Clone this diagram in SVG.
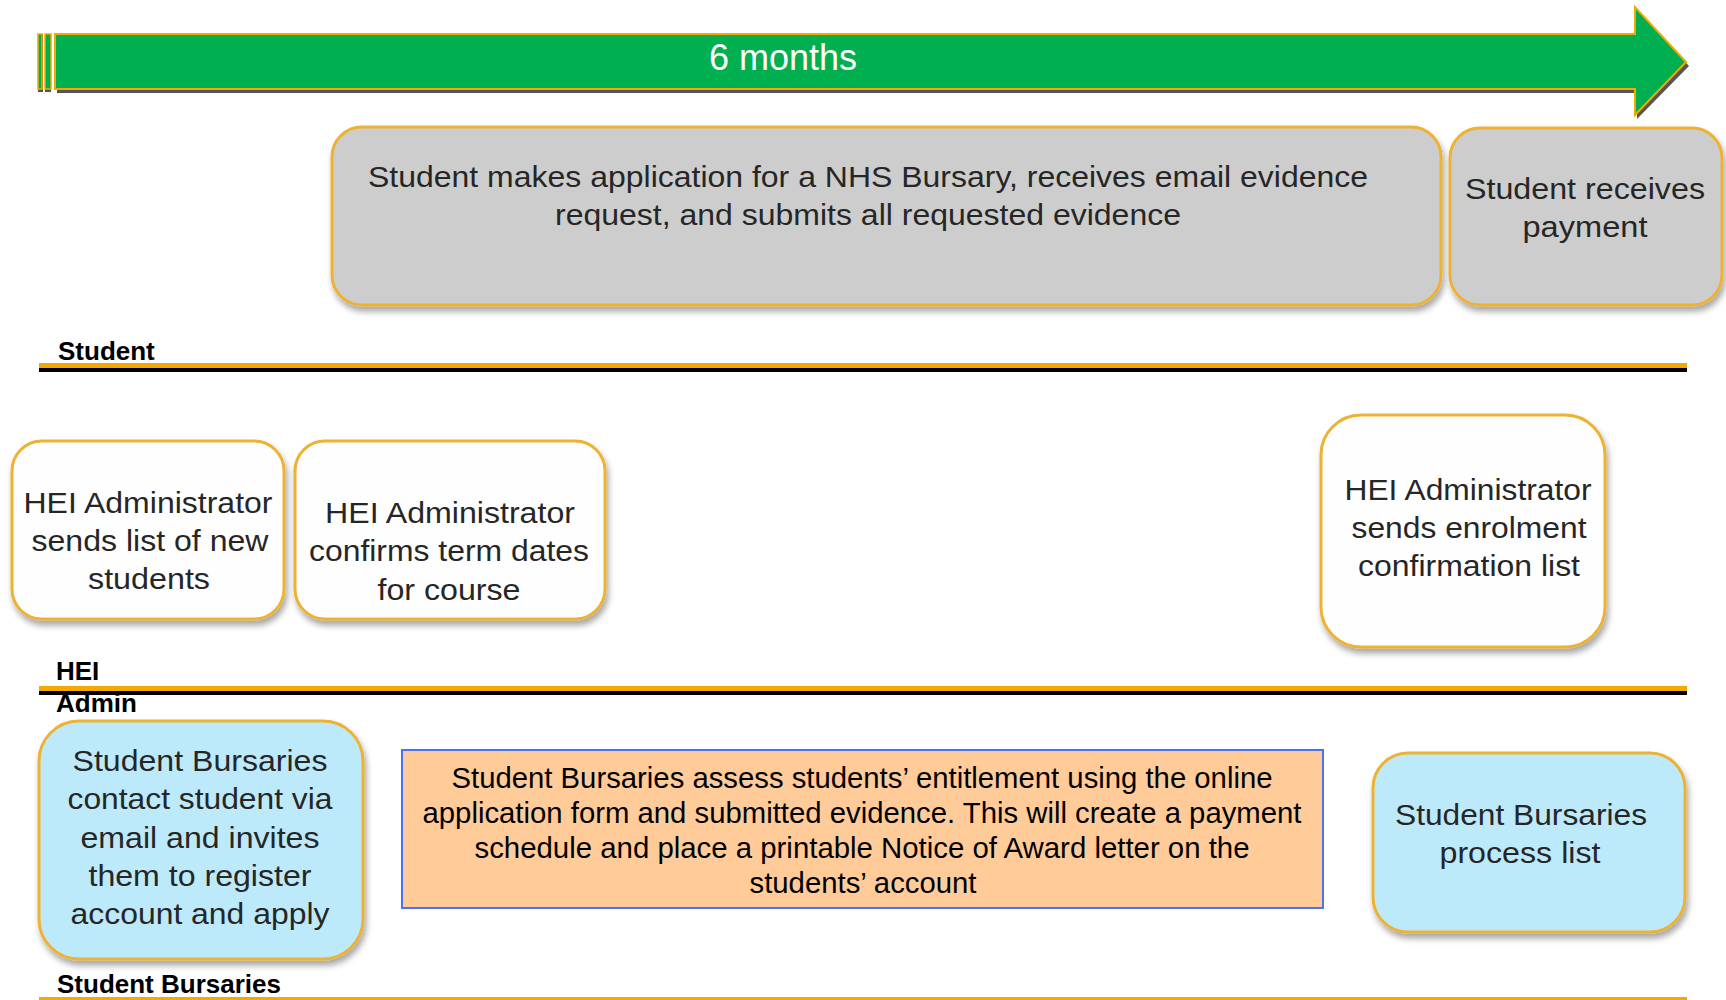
<svg xmlns="http://www.w3.org/2000/svg" width="1726" height="1000" viewBox="0 0 1726 1000">
<defs>
<filter id="sh" x="-10%" y="-10%" width="125%" height="130%">
<feDropShadow dx="2" dy="5" stdDeviation="3" flood-color="#000" flood-opacity="0.35"/>
</filter>
<style>
.box{stroke:#EDB233;stroke-width:3;filter:url(#sh)}
.gray{fill:#CDCDCD}
.white{fill:#FEFEFE}
.blue{fill:#BDEAFB}
.t{font-family:"Liberation Sans",Arial,sans-serif;font-size:30px;fill:#262626;text-anchor:middle}
.t2{font-family:"Liberation Sans",Arial,sans-serif;font-size:29px;fill:#000;text-anchor:middle}
.lane{font-family:"Liberation Sans",Arial,sans-serif;font-size:26px;font-weight:bold;fill:#000}
</style>
</defs>
<rect width="1726" height="1000" fill="#fff"/>

<g id="timeline">
<polygon points="57,38 1637,38 1637,11 1689,66 1637,119 1637,93 57,93" fill="#555"/>
<rect x="38" y="34" width="5" height="58" fill="#555"/>
<rect x="45" y="34" width="6" height="58" fill="#555"/>
<rect x="38" y="34" width="4" height="55" fill="#00B050" stroke="#F2A900" stroke-width="1.5"/>
<rect x="45" y="34" width="6" height="55" fill="#00B050" stroke="#F2A900" stroke-width="1.5"/>
<polygon points="55,34 1635,34 1635,7 1686,62 1635,115 1635,89 55,89" fill="#00B050" stroke="#F2A900" stroke-width="2"/>
<text x="783" y="70" font-family="'Liberation Sans',Arial,sans-serif" font-size="36" fill="#fff" text-anchor="middle">6 months</text>
</g>

<g id="lanes">
<text class="lane" x="58" y="360">Student</text>
<rect x="39" y="363" width="1648" height="5" fill="#F2A900"/>
<rect x="39" y="368" width="1648" height="4" fill="#000"/>
<text class="lane" x="56" y="680">HEI</text>
<text class="lane" x="56" y="712">Admin</text>
<rect x="39" y="686" width="1648" height="5" fill="#F2A900"/>
<rect x="39" y="691" width="1648" height="4" fill="#000"/>
<text class="lane" x="57" y="993">Student Bursaries</text>
<rect x="39" y="997" width="1648" height="3" fill="#F2A900"/>
</g>

<g id="n-apply">
<rect class="box gray" x="332" y="127" width="1109" height="178" rx="30"/>
<text class="t" x="868" y="187" textLength="1000" lengthAdjust="spacingAndGlyphs">Student makes application for a NHS Bursary, receives email evidence</text>
<text class="t" x="868" y="225" textLength="626" lengthAdjust="spacingAndGlyphs">request, and submits all requested evidence</text>
</g>

<g id="n-payment">
<rect class="box gray" x="1450" y="128" width="272" height="177" rx="30"/>
<text class="t" x="1585" y="199" textLength="240" lengthAdjust="spacingAndGlyphs">Student receives</text>
<text class="t" x="1585" y="237" textLength="125" lengthAdjust="spacingAndGlyphs">payment</text>
</g>

<g id="n-hei-list">
<rect class="box white" x="12" y="441" width="272" height="178" rx="30"/>
<text class="t" x="148" y="513" textLength="249" lengthAdjust="spacingAndGlyphs">HEI Administrator</text>
<text class="t" x="150" y="551" textLength="237" lengthAdjust="spacingAndGlyphs">sends list of new</text>
<text class="t" x="149" y="589" textLength="122" lengthAdjust="spacingAndGlyphs">students</text>
</g>

<g id="n-hei-term">
<rect class="box white" x="295" y="441" width="310" height="178" rx="30"/>
<text class="t" x="450" y="523" textLength="250" lengthAdjust="spacingAndGlyphs">HEI Administrator</text>
<text class="t" x="449" y="561" textLength="280" lengthAdjust="spacingAndGlyphs">confirms term dates</text>
<text class="t" x="449" y="600" textLength="143" lengthAdjust="spacingAndGlyphs">for course</text>
</g>

<g id="n-hei-enrol">
<rect class="box white" x="1321" y="415" width="284" height="232" rx="40"/>
<text class="t" x="1468" y="500" textLength="247" lengthAdjust="spacingAndGlyphs">HEI Administrator</text>
<text class="t" x="1469" y="538" textLength="235" lengthAdjust="spacingAndGlyphs">sends enrolment</text>
<text class="t" x="1469" y="576" textLength="222" lengthAdjust="spacingAndGlyphs">confirmation list</text>
</g>

<g id="n-sb-contact">
<rect class="box blue" x="39" y="721" width="324" height="238" rx="40"/>
<text class="t" x="200" y="771" textLength="255" lengthAdjust="spacingAndGlyphs">Student Bursaries</text>
<text class="t" x="200" y="809" textLength="265" lengthAdjust="spacingAndGlyphs">contact student via</text>
<text class="t" x="200" y="848" textLength="239" lengthAdjust="spacingAndGlyphs">email and invites</text>
<text class="t" x="200" y="886" textLength="223" lengthAdjust="spacingAndGlyphs">them to register</text>
<text class="t" x="200" y="924" textLength="259" lengthAdjust="spacingAndGlyphs">account and apply</text>
</g>

<g id="n-sb-assess">
<rect x="402" y="750" width="921" height="158" fill="#FFCC99" stroke="#4A72F2" stroke-width="2"/>
<text class="t2" x="862" y="788" textLength="821" lengthAdjust="spacingAndGlyphs">Student Bursaries assess students’ entitlement using the online</text>
<text class="t2" x="862" y="823" textLength="879" lengthAdjust="spacingAndGlyphs">application form and submitted evidence. This will create a payment</text>
<text class="t2" x="862" y="858" textLength="775" lengthAdjust="spacingAndGlyphs">schedule and place a printable Notice of Award letter on the</text>
<text class="t2" x="863" y="893" textLength="227" lengthAdjust="spacingAndGlyphs">students’ account</text>
</g>

<g id="n-sb-process">
<rect class="box blue" x="1373" y="753" width="312" height="179" rx="35"/>
<text class="t" x="1521" y="825" textLength="252" lengthAdjust="spacingAndGlyphs">Student Bursaries</text>
<text class="t" x="1520" y="863" textLength="161" lengthAdjust="spacingAndGlyphs">process list</text>
</g>

<g id="connectors"></g>
</svg>
